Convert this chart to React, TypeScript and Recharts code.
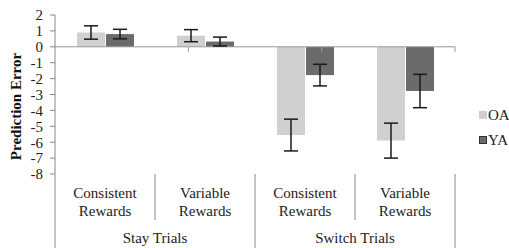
import React from 'react';
import { BarChart, Bar, XAxis, YAxis, ErrorBar, ReferenceLine, Label } from 'recharts';

const categories = ['Consistent Rewards|Stay', 'Variable Rewards|Stay', 'Consistent Rewards|Switch', 'Variable Rewards|Switch'];
const groupLabels = ['Stay Trials', 'Switch Trials'];
const oaValues = [0.9, 0.7, -5.55, -5.9];
const oaErrors = [0.42, 0.38, 1.0, 1.1];
const yaValues = [0.8, 0.33, -1.78, -2.78];
const yaErrors = [0.3, 0.28, 0.68, 1.05];
const yTicks = [2, 1, 0, -1, -2, -3, -4, -5, -6, -7, -8];
const boundaries = [1, 2, 3, 4];

const data = categories.map((c, i) => ({
  cat: c,
  OA: oaValues[i],
  OAerr: oaErrors[i],
  YA: yaValues[i],
  YAerr: yaErrors[i],
}));

const FONT = "'Liberation Serif', 'DejaVu Serif', Tinos, 'Times New Roman', serif";

const CategoryTick = (props: any) => {
  const { x, y, payload, index, width, visibleTicksCount } = props;
  const n = visibleTicksCount || 4;
  const bw = width / n;
  const [line1, line2] = String(payload.value).split('|')[0].split(' ');
  const left = x - bw / 2;
  const right = x + bw / 2;
  const isGroupStart = index % 2 === 0;
  const isLast = index === n - 1;
  const top = y - 8;
  return (
    <g>
      <line x1={left} y1={top} x2={left} y2={isGroupStart ? top + 74 : top + 46} stroke="#888" strokeWidth={1} />
      {isLast && <line x1={right} y1={top} x2={right} y2={top + 74} stroke="#888" strokeWidth={1} />}
      <text x={x} y={top + 24} textAnchor="middle" style={{ fontFamily: FONT }} fontSize={15} fill="#222">{line1}</text>
      <text x={x} y={top + 42} textAnchor="middle" style={{ fontFamily: FONT }} fontSize={15} fill="#222">{line2}</text>
      {isGroupStart && (
        <text x={right} y={top + 69} textAnchor="middle" style={{ fontFamily: FONT }} fontSize={15} fill="#222">
          {groupLabels[index / 2]}
        </text>
      )}
    </g>
  );
};

const YLabel = (props: any) => {
  const { viewBox } = props;
  const cx = 16;
  const cy = viewBox.y + viewBox.height / 2 + 12;
  return (
    <text x={cx} y={cy} transform={`rotate(-90, ${cx}, ${cy})`} textAnchor="middle" dominantBaseline="central"
      style={{ fontFamily: FONT }} fontSize={15} fontWeight="bold" fill="#111">
      Prediction Error
    </text>
  );
};

const legendItems = [
  { name: 'OA', fill: '#d0d0d0', stroke: '#d0d0d0' },
  { name: 'YA', fill: '#6b6b6b', stroke: '#333' },
];

export default function App() {
  return (
    <div style={{ position: 'absolute', left: 0, top: 0, width: 509, height: 248, background: '#fff' }}>
      <BarChart width={509} height={248} data={data} margin={{ top: 15, right: 54, left: 0, bottom: 0 }}
        barSize={28} barGap={1}>
        <XAxis dataKey="cat" xAxisId="cat" height={74} axisLine={false} tickLine={false}
          tick={<CategoryTick />} interval={0} />
        <XAxis xAxisId="grid" type="number" domain={[0, 4]} hide />
        <YAxis width={55} domain={[-8, 2]} ticks={yTicks} interval={0} axisLine={{ stroke: '#888' }}
          tickLine={{ stroke: '#888' }} tickSize={5} tickMargin={7}
          tick={{ style: { fontFamily: FONT }, fontSize: 15, fill: '#222' }}>
          <Label content={<YLabel />} />
        </YAxis>
        <ReferenceLine y={0} xAxisId="cat" stroke="#999" strokeWidth={1} />
        {boundaries.map((b) => (
          <ReferenceLine key={b} xAxisId="grid" segment={[{ x: b, y: 0 }, { x: b, y: -0.32 }]} stroke="#999" strokeWidth={1} />
        ))}
        <Bar dataKey="OA" xAxisId="cat" fill="#d0d0d0" isAnimationActive={false}>
          <ErrorBar dataKey="OAerr" width={7} stroke="#1a1a1a" strokeWidth={1.5} />
        </Bar>
        <Bar dataKey="YA" xAxisId="cat" fill="#6b6b6b" isAnimationActive={false}>
          <ErrorBar dataKey="YAerr" width={7} stroke="#1a1a1a" strokeWidth={1.5} />
        </Bar>
      </BarChart>
      {legendItems.map((it, i) => (
        <div key={it.name} style={{ position: 'absolute', left: 479, top: 107 + i * 25, display: 'flex', alignItems: 'center',
          fontFamily: FONT, fontSize: 15, color: '#222', lineHeight: '16px' }}>
          <span style={{ display: 'inline-block', width: 6, height: 6, background: it.fill, border: `0.5px solid ${it.stroke}`, marginRight: 1 }} />
          <span>{it.name}</span>
        </div>
      ))}
    </div>
  );
}
